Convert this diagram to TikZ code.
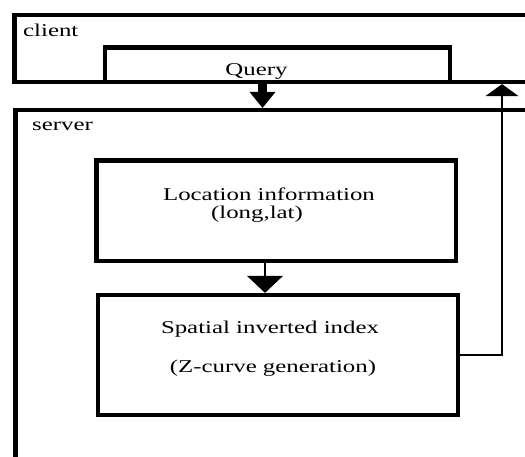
\documentclass[tikz,border=0pt]{standalone}
\usepackage{fontspec}
\setmainfont{Liberation Serif}[FakeStretch=1.38]
\usetikzlibrary{arrows.meta}
\tikzset{
  box/.style={draw=black, line width=4.2pt, rectangle, inner sep=0pt},
  lbl/.style={inner sep=0pt, font=\fontsize{18pt}{20pt}\selectfont, text=black},
  thinline/.style={draw=black, line width=1.6pt},
}
\begin{document}
\begin{tikzpicture}[x=1pt,y=-1pt]
\useasboundingbox (0,0) rectangle (525,456);
\clip (0,0) rectangle (525,456);
\fill[white] (0,0) rectangle (525,456);
% outer containers (right / bottom sides lie outside the picture)
\node[box, minimum width=545.5pt, minimum height=67pt] (client) at (287.25,48.5) {};
\node[box, minimum width=544.5pt, minimum height=380pt] (server) at (287.75,300) {};
% inner boxes
\node[box, minimum width=345pt, minimum height=34.5pt] (query) at (277.5,64.75) {};
\node[box, minimum width=359.5pt, minimum height=100.5pt] (loc) at (276.25,210.75) {};
\node[box, minimum width=360pt, minimum height=120pt] (sp) at (278,355) {};
% texts
\node[lbl, anchor=base west] (tclient) at (23,36) {client};
\node[lbl, anchor=base west] (tserver) at (32,130) {server};
\node[lbl, anchor=base] (tquery) at (256.5,75) {Query};
\node[lbl, anchor=base] (tloc1) at (269,200) {Location information};
\node[lbl, anchor=base] (tloc2) at (257,218) {(long,lat)};
\node[lbl, anchor=base] (tsp1) at (270,333) {Spatial inverted index};
\node[lbl, anchor=base] (tsp2) at (273,372) {(Z-curve generation)};
% helper coordinates for connector x positions
\coordinate (fa) at (262.5,0);
\coordinate (ta) at (265,0);
\coordinate (fb) at (502,0);
% connectors
\draw[draw=black, line width=8.5pt, -{Triangle[width=26pt,length=16pt,line width=0pt]}]
  (query.south -| fa) -- (server.north -| fa);
\draw[thinline, -{Triangle[width=36pt,length=17pt,line width=0pt]}]
  (loc.south -| ta) -- (sp.north -| ta);
\draw[thinline, -{Triangle[width=33pt,length=12pt,line width=0pt]}]
  (sp.east) -| (client.south -| fb);
\end{tikzpicture}
\end{document}
